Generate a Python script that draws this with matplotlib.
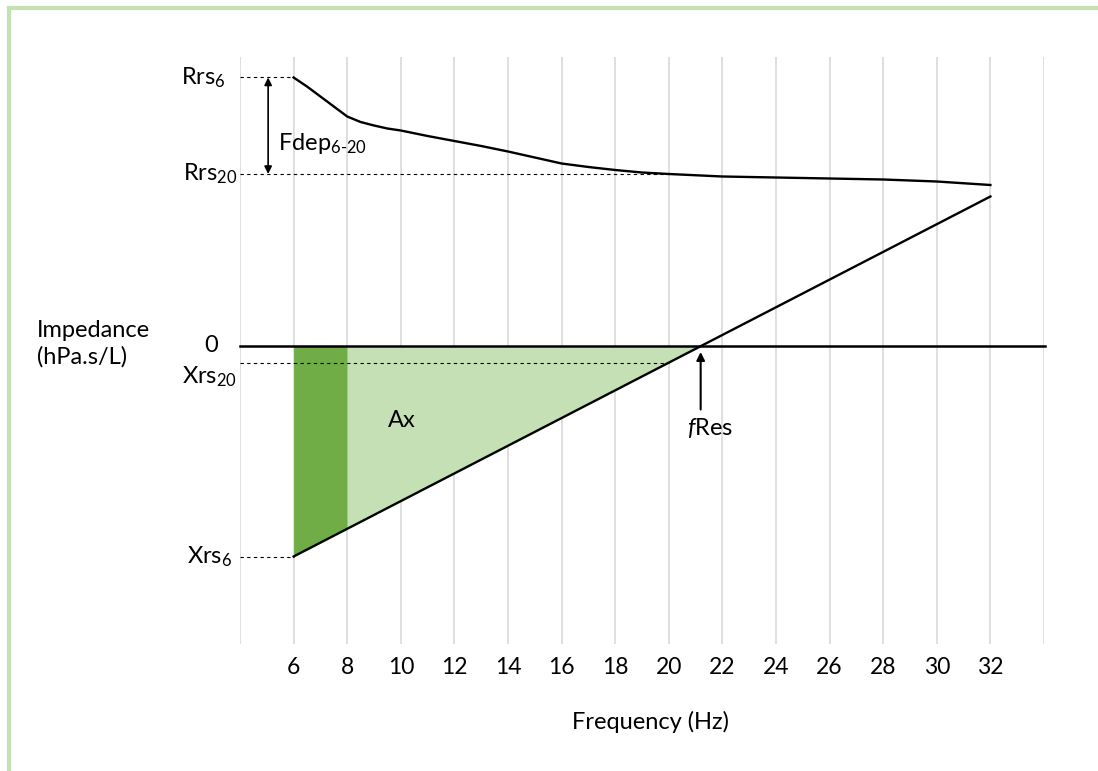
import numpy as np
import matplotlib
matplotlib.use("Agg")
import matplotlib.pyplot as plt
from matplotlib.lines import Line2D

plt.rcParams['font.family'] = ['Lato', 'DejaVu Sans']
plt.rcParams['mathtext.fontset'] = 'custom'
plt.rcParams['mathtext.rm'] = 'Lato'
plt.rcParams['mathtext.it'] = 'Lato:italic'

# data (hPa.s/L vs Hz)
freq = [6, 6.5, 7, 7.5, 8, 8.5, 9, 9.5, 10, 11, 12, 13, 14, 15, 16, 17,
        18, 19, 20, 22, 24, 26, 28, 30, 32]
rrs = [5.36, 5.18, 4.98, 4.78, 4.58, 4.47, 4.40, 4.34, 4.30, 4.19, 4.09,
       3.99, 3.88, 3.76, 3.64, 3.57, 3.51, 3.46, 3.43, 3.38, 3.36, 3.34,
       3.32, 3.28, 3.21]
xrs_freq = [6, 32]
xrs = [-4.22, 2.98]
ticks = list(range(4, 35, 2))
tick_labels = ['' if t in (4, 34) else str(t) for t in ticks]

rrs6, rrs20 = rrs[0], rrs[freq.index(20)]
xrs6 = xrs[0]
xrs20 = np.interp(20, xrs_freq, xrs)
fres = np.interp(0, xrs, xrs_freq)

fig = plt.figure(figsize=(10.98, 7.71), dpi=100)
ax = fig.add_axes([240 / 1098, 1 - 644 / 771, 804 / 1098, 587 / 771])
ax.set_xlim(4, 34)
ax.set_ylim(-5.97, 5.77)

ax.set_xticks(ticks)
ax.set_xticklabels(tick_labels, fontsize=16.5)
ax.set_yticks([])
ax.tick_params(axis='x', length=0, pad=9)
ax.grid(axis='x', color='#d9d9d9', lw=1.2)
ax.set_axisbelow(True)
for s in ax.spines.values():
    s.set_visible(False)

# Ax area
f_dark = np.array([6, 8])
ax.fill_between(f_dark, np.interp(f_dark, xrs_freq, xrs), 0,
                color='#70ad47', lw=0, zorder=2)
f_light = np.array([8, fres])
ax.fill_between(f_light, np.interp(f_light, xrs_freq, xrs), 0,
                color='#c5e0b4', lw=0, zorder=2)

ax.plot(freq, rrs, color='black', lw=1.7, zorder=4, solid_joinstyle='round')
ax.plot(xrs_freq, xrs, color='black', lw=1.7, zorder=4)
ax.plot([4, 34.05], [0, 0], color='black', lw=1.8, zorder=4, clip_on=False)

dash = dict(color='black', lw=0.8, ls=(0, (3, 3)), zorder=3)
ax.plot([4, 6], [rrs6, rrs6], **dash)
ax.plot([4, 20], [rrs20, rrs20], **dash)
ax.plot([4, 20], [xrs20, xrs20], **dash)
ax.plot([4, 6], [xrs6, xrs6], **dash)

ax.annotate('', xy=(5.05, rrs20), xytext=(5.05, rrs6),
            arrowprops=dict(arrowstyle='<|-|>', color='black', lw=1.2,
                            mutation_scale=11, shrinkA=0, shrinkB=0))
ax.annotate('', xy=(fres - 0.05, -0.13), xytext=(fres - 0.05, -1.28),
            arrowprops=dict(arrowstyle='-|>', color='black', lw=1.5,
                            mutation_scale=12, shrinkA=0, shrinkB=0))

fs = 17
ax.text(3.48, rrs6, 'Rrs$_6$', ha='right', va='center', fontsize=fs, clip_on=False)
ax.text(3.9, rrs20, 'Rrs$_{20}$', ha='right', va='center', fontsize=fs, clip_on=False)
ax.text(2.92, 0, '0', ha='center', va='center', fontsize=fs, clip_on=False)
ax.text(3.9, -0.62, 'Xrs$_{20}$', ha='right', va='center', fontsize=fs, clip_on=False)
ax.text(3.7, xrs6, 'Xrs$_6$', ha='right', va='center', fontsize=fs, clip_on=False)
ax.text(5.42, 4.05, r'Fdep$_{6\text{-}20}$', ha='left', va='center', fontsize=fs)
ax.text(10.05, -1.5, 'Ax', ha='center', va='center', fontsize=fs, zorder=5)
ax.text(21.55, -1.66, r'$\mathit{f}$Res', ha='center', va='center', fontsize=fs)

fig.text(37 / 1098, 1 - 344 / 771, 'Impedance\n(hPa.s/L)', ha='left',
         va='center', fontsize=fs, linespacing=1.3)
fig.text(650 / 1098, 1 - 722 / 771, 'Frequency (Hz)', ha='center',
         va='center', fontsize=fs)

# light green frame (top and left)
border = '#c5e0b4'
fig.add_artist(Line2D([9 / 1098, 1], [1 - 8 / 771, 1 - 8 / 771],
                      color=border, lw=3, transform=fig.transFigure))
fig.add_artist(Line2D([9 / 1098, 9 / 1098], [0, 1 - 8 / 771],
                      color=border, lw=3, transform=fig.transFigure))

fig.savefig('out.png', dpi=100)
